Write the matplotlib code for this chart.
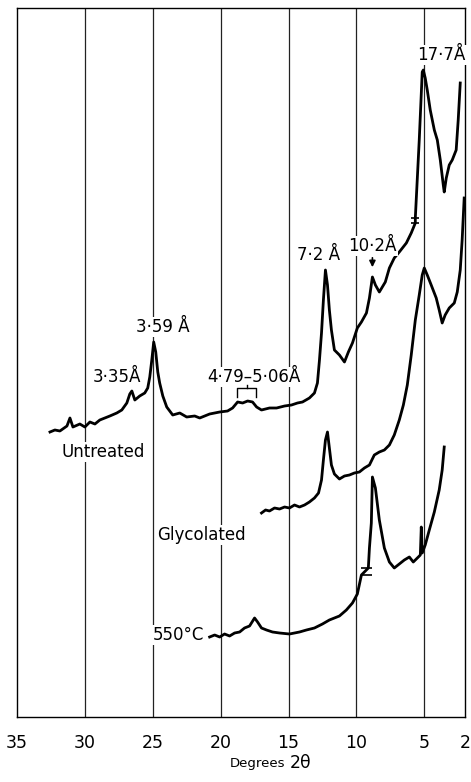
#!/usr/bin/env python3
"""X-ray diffraction traces: untreated, glycolated and 550 C heated clay."""

import matplotlib
matplotlib.use("Agg")
import matplotlib.pyplot as plt

# ==============================
# Data (2-theta in degrees, intensity in arbitrary units)
# ==============================

untreated_2theta = [
    32.57, 32.21, 31.84, 31.32, 31.10, 30.88, 30.37, 30.00, 29.63, 29.26,
    28.90, 28.53, 28.16, 27.65, 27.28, 26.91, 26.69, 26.54, 26.32, 25.96,
    25.59, 25.37, 25.22, 25.07, 24.93, 24.78, 24.63, 24.49, 24.26, 23.97,
    23.53, 23.01, 22.50, 21.91, 21.54, 20.81, 20.07, 19.49, 19.12, 18.75,
    18.38, 18.01, 17.65, 17.35, 16.99, 16.40, 15.88, 15.29, 14.78, 14.34,
    13.97, 13.46, 13.09, 12.87, 12.72, 12.57, 12.43, 12.28, 12.13, 11.99,
    11.84, 11.62, 11.25, 10.88, 10.59, 10.29, 9.93, 9.63, 9.26, 9.04,
    8.82, 8.60, 8.31, 8.09, 7.87, 7.57, 7.21, 6.84, 6.32, 5.96,
    5.66, 5.66, 5.37, 5.15, 5.07, 4.93, 4.78, 4.56, 4.26, 4.04,
    3.82, 3.60, 3.53, 3.38, 3.16, 2.94, 2.65, 2.50, 2.35,
]
untreated_counts = [
    285, 287, 286, 291, 299, 290, 293, 290, 295, 293,
    297, 299, 301, 304, 307, 314, 323, 326, 317, 321,
    324, 329, 340, 357, 375, 365, 345, 334, 321, 310,
    302, 304, 300, 301, 299, 303, 305, 306, 309, 315,
    314, 316, 315, 310, 307, 309, 309, 311, 312, 314,
    315, 319, 324, 334, 357, 384, 417, 447, 432, 407,
    387, 367, 362, 355, 365, 374, 389, 395, 404, 419,
    440, 432, 425, 430, 435, 449, 459, 465, 474, 484,
    494, 499, 577, 645, 647, 639, 627, 607, 587, 577,
    557, 532, 525, 539, 552, 557, 567, 597, 634,
]

glycolated_2theta = [
    16.99, 16.69, 16.40, 16.03, 15.66, 15.29, 14.93, 14.56, 14.19, 13.82,
    13.46, 13.09, 12.79, 12.57, 12.43, 12.28, 12.13, 11.99, 11.84, 11.62,
    11.25, 10.88, 10.51, 10.15, 9.78, 9.41, 9.04, 8.68, 8.31, 7.94,
    7.57, 7.21, 6.84, 6.54, 6.25, 5.96, 5.66, 5.37, 5.15, 5.00,
    4.78, 4.49, 4.12, 3.90, 3.68, 3.46, 3.16, 2.79, 2.57, 2.35,
    2.21, 2.06,
]
glycolated_counts = [
    204, 207, 206, 209, 208, 210, 209, 212, 210, 212,
    215, 219, 224, 237, 257, 277, 285, 269, 252, 243,
    238, 241, 242, 244, 245, 249, 252, 262, 265, 267,
    272, 282, 297, 312, 332, 362, 397, 422, 442, 449,
    442, 432, 419, 407, 394, 402, 409, 414, 425, 447,
    477, 519,
]

heated_2theta = [
    20.81, 20.44, 20.07, 19.71, 19.34, 18.97, 18.60, 18.24, 17.87, 17.50,
    17.28, 16.99, 16.62, 16.18, 15.66, 14.93, 14.19, 13.68, 13.09, 12.50,
    11.99, 11.25, 10.74, 10.29, 9.93, 9.63, 9.12, 9.04, 8.90, 8.82,
    8.60, 8.31, 7.94, 7.57, 7.21, 6.84, 6.47, 6.10, 5.81, 5.51,
    5.29, 5.22, 5.15, 4.93, 4.63, 4.26, 3.90, 3.68, 3.53,
]
heated_counts = [
    80, 82, 80, 83, 81, 84, 85, 89, 91, 99,
    95, 89, 87, 85, 84, 83, 85, 87, 89, 93,
    97, 101, 107, 114, 123, 142, 149, 169, 194, 240,
    229, 197, 169, 155, 149, 153, 157, 160, 155, 159,
    162, 190, 164, 172, 187, 205, 227, 247, 270,
]

# scale-change marks on the traces: (2theta from, 2theta to, lower, upper)
untreated_break = (5.96, 5.37, 494, 499)
heated_break = (9.63, 8.82, 142, 149)

grid_2theta = [30, 25, 20, 15, 10, 5]
tick_values = [35, 30, 25, 20, 15, 10, 5, 2]

# peak labels: (text, 2theta, counts)
peak_labels = [
    ("17·7Å", 3.75, 662),
    ("10·2Å", 8.82, 471),
    ("7·2 Å", 12.79, 462),
    ("3·59 Å", 24.26, 390),
    ("3·35Å", 27.65, 340),
    ("4·79–5·06Å", 17.57, 340),
]


# ==============================
# Plot
# ==============================

def main():
    plt.rcParams["font.family"] = ["DejaVu Sans"]
    fig = plt.figure(figsize=(4.71, 7.82), dpi=100)
    ax = fig.add_axes([17 / 471, 1 - 717 / 782, 448 / 471, 709 / 782])

    ax.set_xlim(35, 2)
    ax.set_ylim(0, 709)

    for g in grid_2theta:
        ax.axvline(g, color="#222222", lw=0.9, zorder=1)

    line_kw = dict(color="black", lw=2.0, zorder=3, solid_joinstyle="round")
    ax.plot(untreated_2theta, untreated_counts, **line_kw)
    ax.plot(glycolated_2theta, glycolated_counts, **line_kw)
    ax.plot(heated_2theta, heated_counts, **line_kw)

    for x0, x1, lo, hi in (untreated_break, heated_break):
        ax.hlines([lo, hi], x0, x1, color="black", lw=1.2, zorder=3)

    box = dict(facecolor="white", edgecolor="none", pad=1.0)
    for text, x, y in peak_labels:
        ax.text(x, y, text, ha="center", va="center", fontsize=12,
                bbox=box, zorder=4, clip_on=False)

    # arrow to the 10.2 A peak
    ax.annotate("", xy=(8.82, 447), xytext=(8.82, 462),
                arrowprops=dict(arrowstyle="-|>", color="black", lw=1.2,
                                mutation_scale=9),
                zorder=4)

    # bracket under the 4.79-5.06 A label
    ax.plot([18.82, 18.82, 17.42, 17.42], [320, 329, 329, 320],
            color="black", lw=1.0, zorder=4)
    ax.plot([18.09, 18.09], [329, 332], color="black", lw=1.0, zorder=4)

    ax.text(28.68, 265, "Untreated", ha="center", va="center", fontsize=12,
            bbox=box, zorder=4)
    ax.text(21.40, 182, "Glycolated", ha="center", va="center", fontsize=12,
            bbox=box, zorder=4)
    ax.text(21.20, 82, "550°C", ha="right", va="center", fontsize=12,
            bbox=box, zorder=4)

    ax.set_xticks(tick_values)
    ax.set_xticklabels([str(t) for t in tick_values], fontsize=12.5)
    ax.tick_params(axis="x", length=0, pad=12)
    ax.set_yticks([])
    for s in ax.spines.values():
        s.set_linewidth(1.0)

    fig.text(285 / 471, 1 - 763 / 782, "Degrees", ha="right", va="center",
             fontsize=9.5)
    fig.text(290 / 471, 1 - 763 / 782, "2θ", ha="left", va="center",
             fontsize=12.5)

    fig.savefig("out.png", dpi=100)


if __name__ == "__main__":
    main()
